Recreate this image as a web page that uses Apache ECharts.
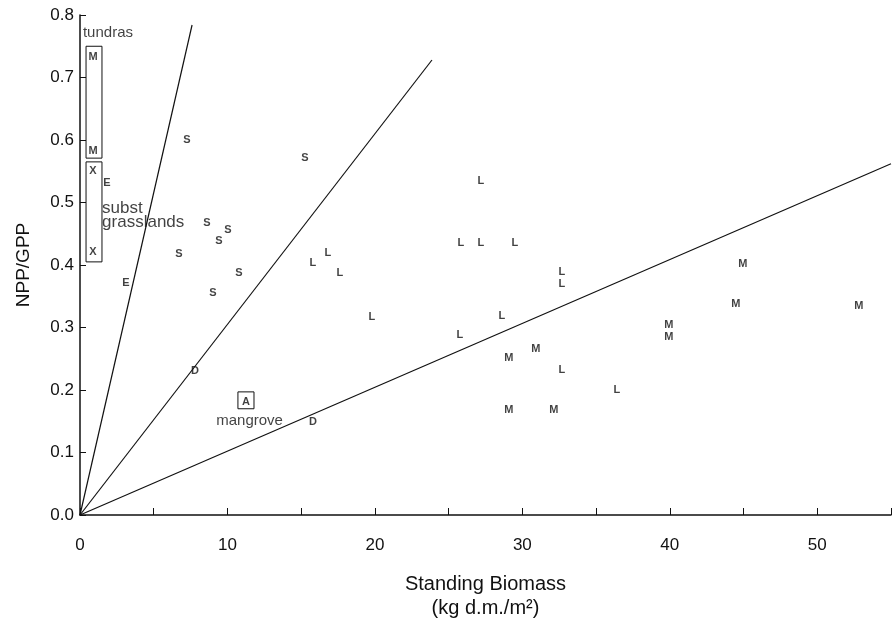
<!DOCTYPE html>
<html>
<head>
<meta charset="utf-8">
<script src="https://cdn.jsdelivr.net/npm/echarts@6/dist/echarts.min.js"></script>
<style>html,body{margin:0;padding:0;background:#fff;}#c{width:896px;height:620px;}</style>
</head>
<body>
<div id="c"></div>
<script>
// ---- data ----
var xTicks = [0, 10, 20, 30, 40, 50];
var yTicks = [0.0, 0.1, 0.2, 0.3, 0.4, 0.5, 0.6, 0.7, 0.8];

// letter-coded points: [standing biomass, NPP/GPP]
var tundraM_x = [0.88, 0.88];
var tundraM_y = [0.733, 0.582];
var substX_x = [0.88, 0.88];
var substX_y = [0.550, 0.421];
var E_x = [1.83, 3.12];
var E_y = [0.531, 0.371];
var S_x = [7.25, 8.61, 10.03, 9.42, 6.71, 10.78, 9.02, 15.25];
var S_y = [0.600, 0.467, 0.456, 0.438, 0.418, 0.387, 0.355, 0.571];
var D_x = [7.80, 15.80];
var D_y = [0.230, 0.149];
var A_x = [11.25];
var A_y = [0.181];
var L_x = [27.19, 25.83, 27.19, 29.49, 16.81, 15.80, 17.63, 32.68, 32.68, 28.61, 25.76, 32.68, 36.41, 19.80];
var L_y = [0.534, 0.435, 0.435, 0.435, 0.419, 0.403, 0.387, 0.389, 0.370, 0.318, 0.288, 0.232, 0.200, 0.317];
var M_x = [30.92, 29.08, 29.08, 32.14, 39.93, 39.93, 44.95, 44.47, 52.81];
var M_y = [0.266, 0.251, 0.168, 0.168, 0.304, 0.285, 0.402, 0.338, 0.334];

// reference lines from the origin: end points
var line1_end = [7.6, 0.784];
var line2_end = [23.87, 0.728];
var line3_end = [55, 0.562];

// boxes: [x1, y1, x2, y2]
var boxTundra = [0.41, 0.571, 1.49, 0.750];
var boxSubst = [0.41, 0.405, 1.49, 0.565];
var boxMangrove = [10.71, 0.170, 11.80, 0.197];

// annotation texts
var noteText = ['tundras', 'subst', 'grasslands', 'mangrove'];
var noteX = [0.20, 1.50, 1.50, 11.5];
var noteY = [0.771, 0.491, 0.468, 0.150];
var noteAlign = ['left', 'left', 'left', 'center'];
var noteSize = [15, 17, 17, 15];

// ---- build ----
var FONT = 'Liberation Sans, Arial, Helvetica, sans-serif';
var INK = '#111';

function pts(xs, ys) { return xs.map(function (x, i) { return [x, ys[i]]; }); }

function letterSeries(name, letter, xs, ys, weight, extra) {
  var s = {
    name: name,
    type: 'scatter',
    data: pts(xs, ys),
    symbol: 'circle',
    symbolSize: 1,
    itemStyle: { color: 'rgba(0,0,0,0)' },
    silent: true,
    label: {
      show: true,
      position: 'inside',
      formatter: letter,
      color: '#111',
      fontFamily: FONT,
      fontSize: 11,
      fontWeight: weight || 'bold'
    },
    z: 5
  };
  if (extra) { for (var k in extra) s[k] = extra[k]; }
  return s;
}

function boxArea(b) {
  return [{ coord: [b[0], b[1]] }, { coord: [b[2], b[3]] }];
}

function refLine(end) {
  return {
    type: 'line',
    data: [[0, 0], end],
    symbol: 'none',
    silent: true,
    lineStyle: { color: '#111', width: 1.2 },
    z: 3
  };
}

var boxStyle = {
  silent: true,
  itemStyle: { color: 'rgba(0,0,0,0)', borderColor: INK, borderWidth: 1 },
  label: { show: false },
  data: [boxArea(boxTundra), boxArea(boxSubst), boxArea(boxMangrove)]
};

var series = [
  refLine(line1_end),
  refLine(line2_end),
  refLine(line3_end),
  letterSeries('tundra', 'M', tundraM_x, tundraM_y, 'bold', { markArea: boxStyle }),
  letterSeries('subst', 'X', substX_x, substX_y),
  letterSeries('E', 'E', E_x, E_y),
  letterSeries('S', 'S', S_x, S_y, 'bold'),
  letterSeries('D', 'D', D_x, D_y),
  letterSeries('A', 'A', A_x, A_y),
  letterSeries('L', 'L', L_x, L_y),
  letterSeries('M', 'M', M_x, M_y),
  {
    type: 'scatter',
    symbolSize: 1,
    itemStyle: { color: 'rgba(0,0,0,0)' },
    silent: true,
    data: noteText.map(function (t, i) {
      return { value: [noteX[i], noteY[i]], name: t, label: { align: noteAlign[i], fontSize: noteSize[i] } };
    }),
    label: {
      show: true,
      position: 'inside',
      formatter: function (p) { return p.name; },
      color: INK,
      fontFamily: FONT,
      fontSize: 15
    },
    z: 5
  }
];

var chart = echarts.init(document.getElementById('c'), null, { renderer: 'canvas' });
chart.setOption({
  animation: false,
  backgroundColor: '#fff',
  textStyle: { fontFamily: FONT },
  grid: { left: 80, right: 5, top: 15, bottom: 105, containLabel: false, outerBoundsMode: 'none' },
  xAxis: {
    type: 'value',
    min: 0,
    max: 55,
    interval: 5,
    name: 'Standing Biomass\n(kg d.m./m²)',
    nameLocation: 'middle',
    nameGap: 57,
    nameTextStyle: { fontSize: 20, color: INK, fontFamily: FONT, lineHeight: 24 },
    axisLine: { show: true, onZero: false, lineStyle: { color: '#111', width: 1.5 } },
    axisTick: { show: true, inside: true, length: 7, lineStyle: { color: '#111', width: 1 } },
    axisLabel: {
      interval: 1,
      margin: 22,
      fontSize: 17,
      color: INK,
      fontFamily: FONT,
      formatter: function (v) { return xTicks.indexOf(v) >= 0 ? String(v) : ''; }
    },
    splitLine: { show: false }
  },
  yAxis: {
    type: 'value',
    min: 0,
    max: 0.8,
    interval: 0.1,
    name: 'NPP/GPP',
    nameLocation: 'middle',
    nameGap: 47,
    nameRotate: 90,
    nameTextStyle: { fontSize: 19, color: INK, fontFamily: FONT },
    axisLine: { show: true, onZero: false, lineStyle: { color: '#111', width: 1.5 } },
    axisTick: { show: true, inside: true, length: 6, lineStyle: { color: '#111', width: 1 } },
    axisLabel: {
      margin: 6,
      fontSize: 17,
      color: INK,
      fontFamily: FONT,
      formatter: function (v) {
        var t = yTicks.filter(function (y) { return Math.abs(y - v) < 1e-6; });
        return t.length ? t[0].toFixed(1) : '';
      }
    },
    splitLine: { show: false }
  },
  series: series
});
</script>
</body>
</html>
